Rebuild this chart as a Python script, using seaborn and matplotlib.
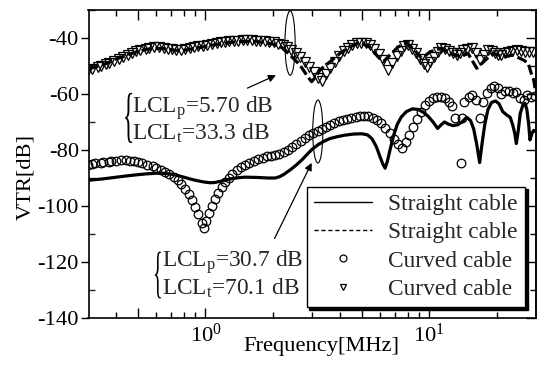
import numpy as np
import pandas as pd
import matplotlib
matplotlib.use("Agg")
import matplotlib.pyplot as plt
import seaborn as sns
from matplotlib.lines import Line2D
from matplotlib.patches import Ellipse, PathPatch
from matplotlib.textpath import TextPath
from matplotlib.font_manager import FontProperties
import matplotlib.transforms as mtransforms
from matplotlib.ticker import FixedLocator, FixedFormatter, MultipleLocator, NullFormatter

# ---------------- data ----------------
# Straight cable, solid line (lower curve)
straight_solid_f = [0.30, 0.35, 0.40, 0.45, 0.50, 0.55, 0.60, 0.65, 0.70, 0.75, 0.80, 0.85, 0.90, 0.95,
                    1.00, 1.05, 1.10, 1.20, 1.30, 1.40, 1.50, 1.70, 1.90, 2.05, 2.15, 2.25, 2.40, 2.55,
                    2.70, 2.85, 3.00, 3.20, 3.40, 3.60, 3.90, 4.20, 4.60, 5.00, 5.30, 5.55, 5.80, 6.00,
                    6.20, 6.35, 6.50, 6.70, 6.95, 7.20, 7.50, 7.90, 8.40, 8.90, 9.40, 9.90, 10.4, 10.9,
                    11.3, 11.7, 12.2, 12.8, 13.4, 14.0, 14.7, 15.3, 15.8, 16.3, 16.8, 17.2, 17.7, 18.3,
                    19.0, 19.8, 20.5, 21.3, 22.2, 23.0, 23.6, 24.1, 24.5, 25.0, 25.5, 26.2, 26.8, 27.3,
                    27.8, 28.2, 28.8, 29.3, 30.0]
straight_solid_v = [-90.8, -90.3, -89.7, -89.2, -88.8, -88.5, -88.3, -88.3, -88.6, -89.1, -89.7, -90.3, -90.8, -91.2,
                    -91.5, -91.7, -91.6, -91.0, -90.3, -89.9, -89.7, -89.8, -90.0, -90.0, -89.5, -88.6, -87.0, -85.3,
                    -83.5, -81.5, -79.7, -78.0, -76.8, -75.9, -75.2, -74.7, -74.3, -74.2, -74.6, -76.0, -78.8, -82.0,
                    -85.0, -86.5, -84.0, -79.5, -74.5, -70.8, -68.2, -66.3, -65.3, -65.5, -66.5, -68.0, -70.0, -72.3,
                    -71.0, -70.0, -70.8, -71.3, -71.0, -70.0, -68.3, -69.5, -72.5, -78.0, -84.5, -78.0, -71.0, -65.5,
                    -63.0, -62.5, -63.5, -66.3, -67.5, -68.3, -71.0, -74.0, -77.7, -73.0, -67.0, -64.0, -63.3, -65.5,
                    -70.5, -76.4, -74.0, -73.0, -73.5]

# Straight cable, dashed line (upper curve)
straight_dash_f = [0.30, 0.35, 0.40, 0.45, 0.50, 0.55, 0.60, 0.65, 0.70, 0.75, 0.80, 0.90, 1.00, 1.10,
                   1.20, 1.35, 1.50, 1.70, 1.90, 2.05, 2.20, 2.39, 2.64, 2.83, 2.98, 3.10, 3.25, 3.60,
                   3.99, 4.42, 4.90, 5.40, 5.90, 6.23, 6.67, 7.28, 7.93, 8.60, 9.25, 10.1, 11.2, 12.4,
                   13.8, 14.9, 16.3, 17.8, 19.3, 21.5, 23.7, 26.4, 27.7, 28.4, 29.3, 29.8]
straight_dash_v = [-51.0, -49.5, -47.5, -46.0, -44.8, -44.0, -43.7, -43.8, -44.2, -44.5, -44.4, -43.7, -43.0, -42.4,
                   -41.9, -41.4, -41.2, -41.3, -41.8, -42.4, -43.5, -46.1, -49.6, -53.2, -55.6, -54.0, -51.4, -48.5,
                   -45.5, -43.1, -41.7, -43.1, -46.7, -48.5, -46.1, -43.1, -41.9, -44.3, -47.3, -44.9, -43.7, -45.5,
                   -46.7, -45.5, -50.8, -47.9, -45.5, -46.7, -46.1, -47.9, -49.0, -52.0, -55.0, -58.6]

# Curved cable, circles (lower curve)
curved_circ_f = [0.30, 0.31, 0.32, 0.34, 0.35, 0.37, 0.38, 0.40, 0.42, 0.44, 0.46, 0.48, 0.50, 0.52,
                 0.55, 0.58, 0.60, 0.63, 0.66, 0.69, 0.72, 0.75, 0.78, 0.81, 0.84, 0.87, 0.90, 0.93,
                 0.96, 0.98, 1.01, 1.04, 1.07, 1.10, 1.14, 1.18, 1.22, 1.27, 1.32, 1.38, 1.44, 1.50,
                 1.57, 1.64, 1.72, 1.80, 1.88, 1.96, 2.05, 2.14, 2.24, 2.34, 2.44, 2.55, 2.66, 2.78,
                 2.90, 3.03, 3.17, 3.31, 3.46, 3.61, 3.77, 3.94, 4.12, 4.30, 4.49, 4.69, 4.90, 5.12,
                 5.35, 5.59, 5.84, 6.10, 6.37, 6.65, 6.95, 7.26, 7.55, 7.85, 8.15, 8.45, 8.80, 9.15,
                 9.55, 9.95, 10.4, 10.8, 11.3, 11.8, 12.3, 12.6, 13.0, 13.8, 14.0, 14.3, 15.0, 15.6,
                 16.2, 16.8, 17.4, 18.1, 18.8, 19.5, 20.2, 21.0, 21.8, 22.7, 23.6, 24.5, 25.5, 26.4,
                 27.4, 28.5, 29.8]
curved_circ_v = [-85.2, -85.0, -84.8, -84.6, -84.4, -84.2, -84.0, -83.8, -83.7, -83.7, -83.8, -84.0, -84.3, -84.7,
                 -85.2, -85.8, -86.3, -87.0, -87.8, -88.6, -89.6, -90.8, -92.2, -93.8, -95.7, -97.8, -100.3, -102.8,
                 -106.0, -108.0, -105.5, -102.5, -100.0, -97.6, -95.3, -93.3, -91.6, -90.0, -88.6, -87.3, -86.2, -85.3,
                 -84.5, -83.8, -83.2, -82.7, -82.3, -82.0, -81.7, -81.3, -80.8, -80.0, -79.0, -77.9, -76.8, -75.7,
                 -74.8, -74.0, -73.2, -72.5, -71.7, -71.0, -70.3, -69.7, -69.2, -68.8, -68.5, -68.2, -68.0, -67.9,
                 -68.0, -68.4, -69.2, -70.3, -72.0, -74.0, -76.2, -78.0, -79.2, -77.0, -74.5, -71.8, -69.0, -66.3,
                 -64.0, -62.5, -61.5, -61.0, -61.0, -61.5, -62.8, -64.3, -68.7, -84.8, -68.7, -62.7, -61.0, -60.5,
                 -62.0, -68.5, -63.0, -59.8, -57.8, -57.2, -57.8, -60.0, -59.0, -59.0, -59.5, -59.3, -61.5, -62.0,
                 -60.5, -61.2, -60.8]

# Curved cable, triangles (upper curve)
curved_tri_f = [0.30, 0.31, 0.33, 0.34, 0.36, 0.37, 0.39, 0.41, 0.43, 0.45, 0.47, 0.49, 0.51, 0.54,
                0.56, 0.59, 0.62, 0.65, 0.68, 0.71, 0.74, 0.78, 0.81, 0.85, 0.89, 0.93, 0.97, 1.02,
                1.07, 1.12, 1.17, 1.22, 1.28, 1.34, 1.40, 1.47, 1.54, 1.61, 1.68, 1.76, 1.84, 1.93,
                2.02, 2.11, 2.21, 2.31, 2.42, 2.53, 2.65, 2.78, 2.91, 3.04, 3.18, 3.30, 3.45, 3.61,
                3.78, 3.95, 4.14, 4.33, 4.53, 4.74, 4.96, 5.19, 5.43, 5.68, 5.94, 6.22, 6.57, 6.85,
                7.15, 7.45, 7.75, 8.07, 8.40, 8.75, 9.10, 9.45, 9.75, 10.1, 10.5, 10.9, 11.3, 11.8,
                12.3, 12.8, 13.25, 13.7, 14.2, 14.8, 15.5, 16.2, 16.9, 17.6, 18.3, 19.0, 19.7, 20.3,
                21.0, 21.7, 22.5, 23.5, 24.6, 25.7, 26.8, 28.0, 29.2]
curved_tri_v = [-51.5, -51.0, -50.4, -49.9, -49.3, -48.8, -48.1, -47.4, -46.7, -46.0, -45.3, -44.7, -44.2, -43.8,
                -43.5, -43.3, -43.3, -43.5, -43.8, -44.1, -44.3, -44.3, -44.1, -43.7, -43.3, -43.0, -42.7, -42.4,
                -42.1, -41.8, -41.6, -41.4, -41.2, -41.0, -40.9, -40.8, -40.8, -40.8, -40.9, -41.0, -41.1, -41.3,
                -41.6, -42.0, -42.5, -43.2, -44.2, -45.3, -46.8, -48.4, -50.2, -52.2, -54.3, -55.5, -53.0, -50.6,
                -48.4, -46.4, -44.7, -43.4, -42.5, -41.9, -41.7, -41.9, -42.6, -43.8, -45.6, -48.0, -51.4, -49.0,
                -46.5, -44.5, -43.0, -42.5, -43.8, -45.5, -47.5, -49.2, -50.2, -48.5, -46.7, -45.0, -43.7, -43.9,
                -44.6, -45.3, -46.1, -45.2, -44.3, -44.0, -43.7, -45.5, -47.9, -46.0, -44.3, -44.8, -45.5, -45.9,
                -46.1, -45.4, -44.9, -44.5, -44.3, -44.6, -44.9, -44.9, -44.9]

legend_labels = ["Straight cable", "Straight cable", "Curved cable", "Curved cable"]
note_upper = "LCL$_\\mathrm{p}$=5.70 dB\nLCL$_\\mathrm{t}$=33.3 dB"
note_lower = "LCL$_\\mathrm{p}$=30.7 dB\nLCL$_\\mathrm{t}$=70.1 dB"
xtick_vals = [0.5, 1, 5, 10]
xtick_labels = ["", "$\\mathdefault{10^{0}}$", "", "$\\mathdefault{10^{1}}$"]
ytick_vals = [-140, -120, -100, -80, -60, -40]
ytick_labels = ["-140", "-120", "-100", "-80", "-60", "-40"]

# ---------------- style ----------------
sns.set_theme(style="ticks")
plt.rcParams["font.family"] = ["Liberation Serif", "DejaVu Serif"]
plt.rcParams["mathtext.fontset"] = "custom"
plt.rcParams["mathtext.rm"] = "Liberation Serif"
plt.rcParams["mathtext.it"] = "Liberation Serif:italic"
plt.rcParams["mathtext.bf"] = "Liberation Serif:bold"

FS = 16.2
FS_NOTE = 16.8
fig = plt.figure(figsize=(5.49, 3.72), dpi=100)
W, H = 549, 372
L, R, T, B = 88.5, 536, 10, 318
ax = fig.add_axes([L / W, 1 - B / H, (R - L) / W, (B - T) / H])

d_solid = pd.DataFrame({"f": straight_solid_f, "v": straight_solid_v})
d_dash = pd.DataFrame({"f": straight_dash_f, "v": straight_dash_v})
d_circ = pd.DataFrame({"f": curved_circ_f, "v": curved_circ_v})
d_tri = pd.DataFrame({"f": curved_tri_f, "v": curved_tri_v})

sns.lineplot(data=d_solid, x="f", y="v", ax=ax, color="black", lw=2.3, estimator=None, sort=False)
sns.lineplot(data=d_dash, x="f", y="v", ax=ax, color="black", lw=2.3, estimator=None, sort=False,
             dashes=False, linestyle=(0, (3.2, 1.2)))
sns.lineplot(data=d_circ, x="f", y="v", ax=ax, estimator=None, sort=False, linestyle="",
             marker="o", markersize=6.2, markerfacecolor="none", markeredgecolor="black",
             markeredgewidth=0.9, color="black")
sns.lineplot(data=d_tri, x="f", y="v", ax=ax, estimator=None, sort=False, linestyle="",
             marker="v", markersize=6.6, markerfacecolor="none", markeredgecolor="black",
             markeredgewidth=0.9, color="black")

ax.set_xscale("log")
ax.set_xlim(0.3, 30)
ax.set_ylim(-140, -30)
ax.xaxis.set_major_locator(FixedLocator(xtick_vals))
ax.xaxis.set_major_formatter(FixedFormatter(xtick_labels))
ax.xaxis.set_minor_locator(FixedLocator([0.4, 0.6, 0.7, 0.8, 0.9, 2, 3, 4, 6, 7, 8, 9, 20]))
ax.xaxis.set_minor_formatter(NullFormatter())
ax.set_yticks(ytick_vals)
ax.set_yticklabels(ytick_labels)
ax.yaxis.set_minor_locator(MultipleLocator(10))

for s in ax.spines.values():
    s.set_linewidth(1.2)
    s.set_color("black")
ax.tick_params(axis="x", which="both", direction="in", top=True, bottom=True, colors="black",
               labelsize=FS, width=1.0)
ax.tick_params(axis="x", which="major", length=7, pad=4)
ax.tick_params(axis="x", which="minor", length=4)
ax.tick_params(axis="y", which="major", direction="out", left=True, right=False, length=6,
               width=1.0, pad=1, labelsize=FS, colors="black")
ax.tick_params(axis="y", which="minor", direction="in", left=True, right=False, length=4, width=1.0)

# right-hand ticks (inward, no labels)
ax_r = ax.secondary_yaxis("right")
ax_r.set_yticks(ytick_vals)
ax_r.yaxis.set_minor_locator(MultipleLocator(10))
ax_r.tick_params(which="both", direction="in", labelright=False, width=1.0, colors="black")
ax_r.tick_params(which="major", length=7)
ax_r.tick_params(which="minor", length=4)
ax_r.spines["right"].set_linewidth(1.2)

ax.set_xlabel("Frequency[MHz]", fontsize=FS, color="black")
ax.set_ylabel("VTR[dB]", fontsize=FS, color="black")
ax.xaxis.set_label_coords(0.52, -0.062)
ax.yaxis.set_label_coords(-0.12, 0.459)

# legend
handles = [Line2D([], [], color="black", lw=1.0),
           Line2D([], [], color="black", lw=1.0, linestyle=(0, (3, 2))),
           Line2D([], [], color="black", ls="", marker="o", ms=5, mfc="none", mew=0.9),
           Line2D([], [], color="black", ls="", marker="v", ms=5, mfc="none", mew=0.9)]
leg = ax.legend(handles, legend_labels, loc="lower right", bbox_to_anchor=(0.975, 0.036),
                borderaxespad=0, fontsize=FS_NOTE, frameon=True, fancybox=False,
                shadow={"color": "black", "alpha": 1.0}, handlelength=2.5, handletextpad=0.7,
                labelspacing=0.3, borderpad=0.3)
leg.get_frame().set_edgecolor("black")
leg.get_frame().set_linewidth(1.0)
leg.get_frame().set_facecolor("white")

# annotations: ellipses
ax.add_patch(Ellipse((2.39, -41.8), width=0.25, height=23, fill=False, lw=0.8, ec="black",
                     transform=ax.transData, clip_on=False))
ax.add_patch(Ellipse((3.18, -73.4), width=0.33, height=22.5, fill=False, lw=0.8, ec="black",
                     transform=ax.transData))

# arrows
ax.annotate("", xy=(2.12, -52.9), xytext=(1.50, -58.3),
            arrowprops=dict(arrowstyle="-|>", color="black", lw=0.9, mutation_scale=11))
ax.annotate("", xy=(3.02, -83.7), xytext=(2.01, -112.5),
            arrowprops=dict(arrowstyle="-|>", color="black", lw=0.9, mutation_scale=11))

# texts (two-line notes)
ax.text(0.468, -76.4, note_upper, fontsize=FS_NOTE, va="baseline", ha="left", linespacing=1.02)
ax.text(0.637, -131.5, note_lower, fontsize=FS_NOTE, va="baseline", ha="left", linespacing=1.02)

# curly braces drawn from the serif glyph, stretched vertically
def brace(x, y_top, y_bot, width_px):
    tp = TextPath((0, 0), "{", size=100, prop=FontProperties(family="Liberation Serif"))
    ext = tp.get_extents()
    p_top = ax.transData.transform((x, y_top))
    p_bot = ax.transData.transform((x, y_bot))
    h = p_top[1] - p_bot[1]
    tr = (mtransforms.Affine2D().translate(-ext.x0, -ext.y0)
          .scale(width_px / ext.width, h / ext.height)
          .translate(p_bot[0], p_bot[1]))
    patch = PathPatch(tp, transform=tr, facecolor="black", edgecolor="none")
    fig.add_artist(patch)

brace(0.437, -59.6, -77.5, 7)
brace(0.594, -116.3, -133.0, 6)

fig.savefig("out.png", dpi=100)
